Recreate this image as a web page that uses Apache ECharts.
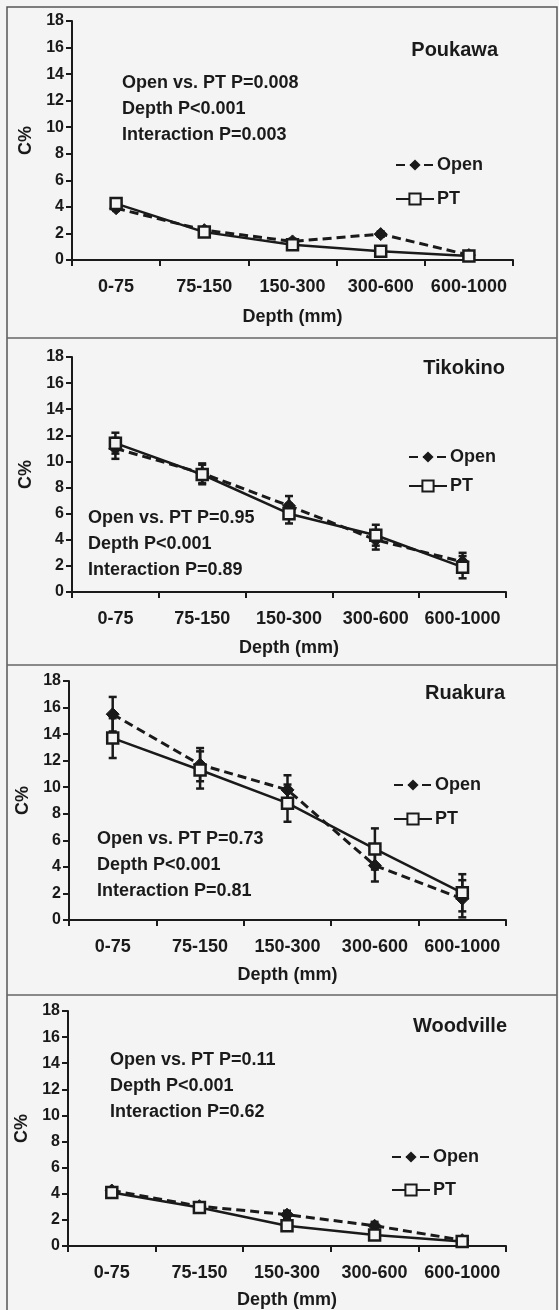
<!DOCTYPE html>
<html>
<head>
<meta charset="utf-8">
<script src="https://cdn.jsdelivr.net/npm/echarts@6/dist/echarts.min.js"></script>
<style>
  html, body { margin: 0; padding: 0; background: #f4f4f4; }
  #chart { width: 559px; height: 1310px; }
</style>
</head>
<body>
<div id="chart"></div>
<script>
// depth classes and yaxis ticks
const categories = ['0-75', '75-150', '150-300', '300-600', '600-1000'];
const yTicks = [0, 2, 4, 6, 8, 10, 12, 14, 16, 18];

// C% means and error (+/-)
const poukawaOpen = [3.9, 2.25, 1.4, 1.95, 0.37];
const poukawaPT = [4.25, 2.1, 1.15, 0.65, 0.3];
const poukawaOpenErr = [0.2, 0.2, 0.2, 0.2, 0.1];
const poukawaPTErr = [0.2, 0.2, 0.15, 0.15, 0.1];

const tikokinoOpen = [11.0, 9.1, 6.6, 4.0, 2.3];
const tikokinoPT = [11.4, 9.0, 6.0, 4.35, 1.9];
const tikokinoOpenErr = [0.8, 0.75, 0.75, 0.75, 0.7];
const tikokinoPTErr = [0.8, 0.75, 0.75, 0.8, 0.85];

const ruakuraOpen = [15.5, 11.7, 9.8, 4.1, 1.6];
const ruakuraPT = [13.7, 11.3, 8.8, 5.35, 2.05];
const ruakuraOpenErr = [1.3, 1.25, 1.1, 1.2, 1.4];
const ruakuraPTErr = [1.5, 1.4, 1.4, 1.55, 1.4];

const woodvilleOpen = [4.25, 3.05, 2.4, 1.55, 0.45];
const woodvillePT = [4.1, 2.95, 1.55, 0.85, 0.35];
const woodvilleOpenErr = [0.15, 0.15, 0.3, 0.3, 0.15];
const woodvillePTErr = [0.15, 0.15, 0.25, 0.2, 0.15];

const siteNames = ['Poukawa', 'Tikokino', 'Ruakura', 'Woodville'];
const statsText = [
  ['Open vs. PT P=0.008', 'Depth P<0.001', 'Interaction P=0.003'],
  ['Open vs. PT P=0.95', 'Depth P<0.001', 'Interaction P=0.89'],
  ['Open vs. PT P=0.73', 'Depth P<0.001', 'Interaction P=0.81'],
  ['Open vs. PT P=0.11', 'Depth P<0.001', 'Interaction P=0.62']
];

const openData = [poukawaOpen, tikokinoOpen, ruakuraOpen, woodvilleOpen];
const ptData = [poukawaPT, tikokinoPT, ruakuraPT, woodvillePT];
const openErr = [poukawaOpenErr, tikokinoOpenErr, ruakuraOpenErr, woodvilleOpenErr];
const ptErr = [poukawaPTErr, tikokinoPTErr, ruakuraPTErr, woodvillePTErr];

// panel layout (pixels)
const panels = [
  { grid: { left: 72, top: 21, width: 441, height: 239 }, title: { right: 61, top: 38 }, stats: { left: 122, top: 70 }, legend: { left: 395, top: 156, gap: 16 }, nameGap: 48 },
  { grid: { left: 72, top: 357, width: 434, height: 235 }, title: { right: 54, top: 356 }, stats: { left: 88, top: 505 }, legend: { left: 408, top: 448, gap: 11 }, nameGap: 47 },
  { grid: { left: 69, top: 681, width: 437, height: 239 }, title: { right: 54, top: 681 }, stats: { left: 97, top: 826 }, legend: { left: 393, top: 776, gap: 16 }, nameGap: 46 },
  { grid: { left: 68, top: 1011, width: 438, height: 235 }, title: { right: 52, top: 1014 }, stats: { left: 110, top: 1047 }, legend: { left: 391, top: 1148, gap: 15 }, nameGap: 45 }
];

const font = 'Arial, "Liberation Sans", sans-serif';
const ink = '#1a1a1a';

function errorSeries(means, errs, gi) {
  return {
    type: 'custom',
    xAxisIndex: gi,
    yAxisIndex: gi,
    silent: true,
    z: 3,
    data: means.map((m, i) => [i, m - errs[i], m + errs[i]]),
    renderItem: function (params, api) {
      const lo = api.coord([api.value(0), api.value(1)]);
      const hi = api.coord([api.value(0), api.value(2)]);
      const cap = 4;
      const st = { stroke: ink, lineWidth: 2.5 };
      return {
        type: 'group',
        children: [
          { type: 'line', shape: { x1: lo[0], y1: lo[1], x2: hi[0], y2: hi[1] }, style: st },
          { type: 'line', shape: { x1: lo[0] - cap, y1: lo[1], x2: lo[0] + cap, y2: lo[1] }, style: st },
          { type: 'line', shape: { x1: hi[0] - cap, y1: hi[1], x2: hi[0] + cap, y2: hi[1] }, style: st }
        ]
      };
    }
  };
}

const grids = [], xAxes = [], yAxes = [], series = [], titles = [], legends = [];

panels.forEach((p, gi) => {
  grids.push(p.grid);
  xAxes.push({
    type: 'category',
    gridIndex: gi,
    data: categories,
    name: 'Depth (mm)',
    nameLocation: 'middle',
    nameGap: p.nameGap,
    nameTextStyle: { fontFamily: font, fontWeight: 'bold', fontSize: 18, color: ink },
    axisLine: { lineStyle: { color: ink, width: 2 } },
    axisTick: { show: true, length: 6, lineStyle: { color: ink, width: 2 } },
    axisLabel: { interval: 0, hideOverlap: false, margin: 18, fontFamily: font, fontWeight: 'bold', fontSize: 18, color: ink },
    splitLine: { show: false }
  });
  yAxes.push({
    type: 'value',
    gridIndex: gi,
    min: yTicks[0],
    max: yTicks[yTicks.length - 1],
    interval: 2,
    name: 'C%',
    nameLocation: 'middle',
    nameRotate: 90,
    nameGap: 36,
    nameTextStyle: { fontFamily: font, fontWeight: 'bold', fontSize: 18, color: ink },
    axisLine: { show: true, lineStyle: { color: ink, width: 2 } },
    axisTick: { show: true, length: 6, lineStyle: { color: ink, width: 2 } },
    axisLabel: { margin: 8, fontFamily: font, fontWeight: 'bold', fontSize: 16, color: ink },
    splitLine: { show: false }
  });

  series.push(errorSeries(openData[gi], openErr[gi], gi));
  series.push(errorSeries(ptData[gi], ptErr[gi], gi));
  series.push({
    name: 'Open',
    type: 'line',
    xAxisIndex: gi,
    yAxisIndex: gi,
    data: openData[gi],
    symbol: 'diamond',
    symbolSize: 13,
    z: 4,
    lineStyle: { color: ink, width: 3, type: [9, 5] },
    itemStyle: { color: ink, borderColor: ink }
  });
  series.push({
    name: 'PT',
    type: 'line',
    xAxisIndex: gi,
    yAxisIndex: gi,
    data: ptData[gi],
    symbol: 'rect',
    symbolSize: 11,
    showAllSymbol: true,
    z: 5,
    lineStyle: { color: ink, width: 2.5 },
    itemStyle: { color: '#f4f4f4', borderColor: ink, borderWidth: 2.5 }
  });

  titles.push({
    text: siteNames[gi],
    right: p.title.right,
    top: p.title.top,
    padding: 0,
    textStyle: { fontFamily: font, fontWeight: 'bold', fontSize: 20, color: ink, lineHeight: 24 }
  });
  titles.push({
    text: statsText[gi].join('\n'),
    left: p.stats.left,
    top: p.stats.top,
    padding: 0,
    textStyle: { fontFamily: font, fontWeight: 'bold', fontSize: 18, color: ink, lineHeight: 26 }
  });
  legends.push({
    data: ['Open', 'PT'],
    orient: 'vertical',
    left: p.legend.left,
    top: p.legend.top,
    itemGap: p.legend.gap,
    itemWidth: 38,
    itemHeight: 14,
    padding: 0,
    selectedMode: false,
    textStyle: { fontFamily: font, fontWeight: 'bold', fontSize: 18, color: ink, padding: [0, 0, 0, -2] }
  });
});

const chart = echarts.init(document.getElementById('chart'), null, { renderer: 'canvas' });
chart.setOption({
  backgroundColor: '#f4f4f4',
  animation: false,
  title: titles,
  legend: legends,
  grid: grids,
  xAxis: xAxes,
  yAxis: yAxes,
  series: series,
  graphic: [
    { type: 'rect', shape: { x: 7, y: 7, width: 550, height: 1310 }, style: { fill: 'none', stroke: '#555', lineWidth: 1.5 }, silent: true },
    { type: 'line', shape: { x1: 7, y1: 338, x2: 557, y2: 338 }, style: { stroke: '#666', lineWidth: 1.5 }, silent: true },
    { type: 'line', shape: { x1: 7, y1: 665, x2: 557, y2: 665 }, style: { stroke: '#666', lineWidth: 1.5 }, silent: true },
    { type: 'line', shape: { x1: 7, y1: 995, x2: 557, y2: 995 }, style: { stroke: '#666', lineWidth: 1.5 }, silent: true }
  ]
});
window.addEventListener('resize', () => chart.resize());
</script>
</body>
</html>
